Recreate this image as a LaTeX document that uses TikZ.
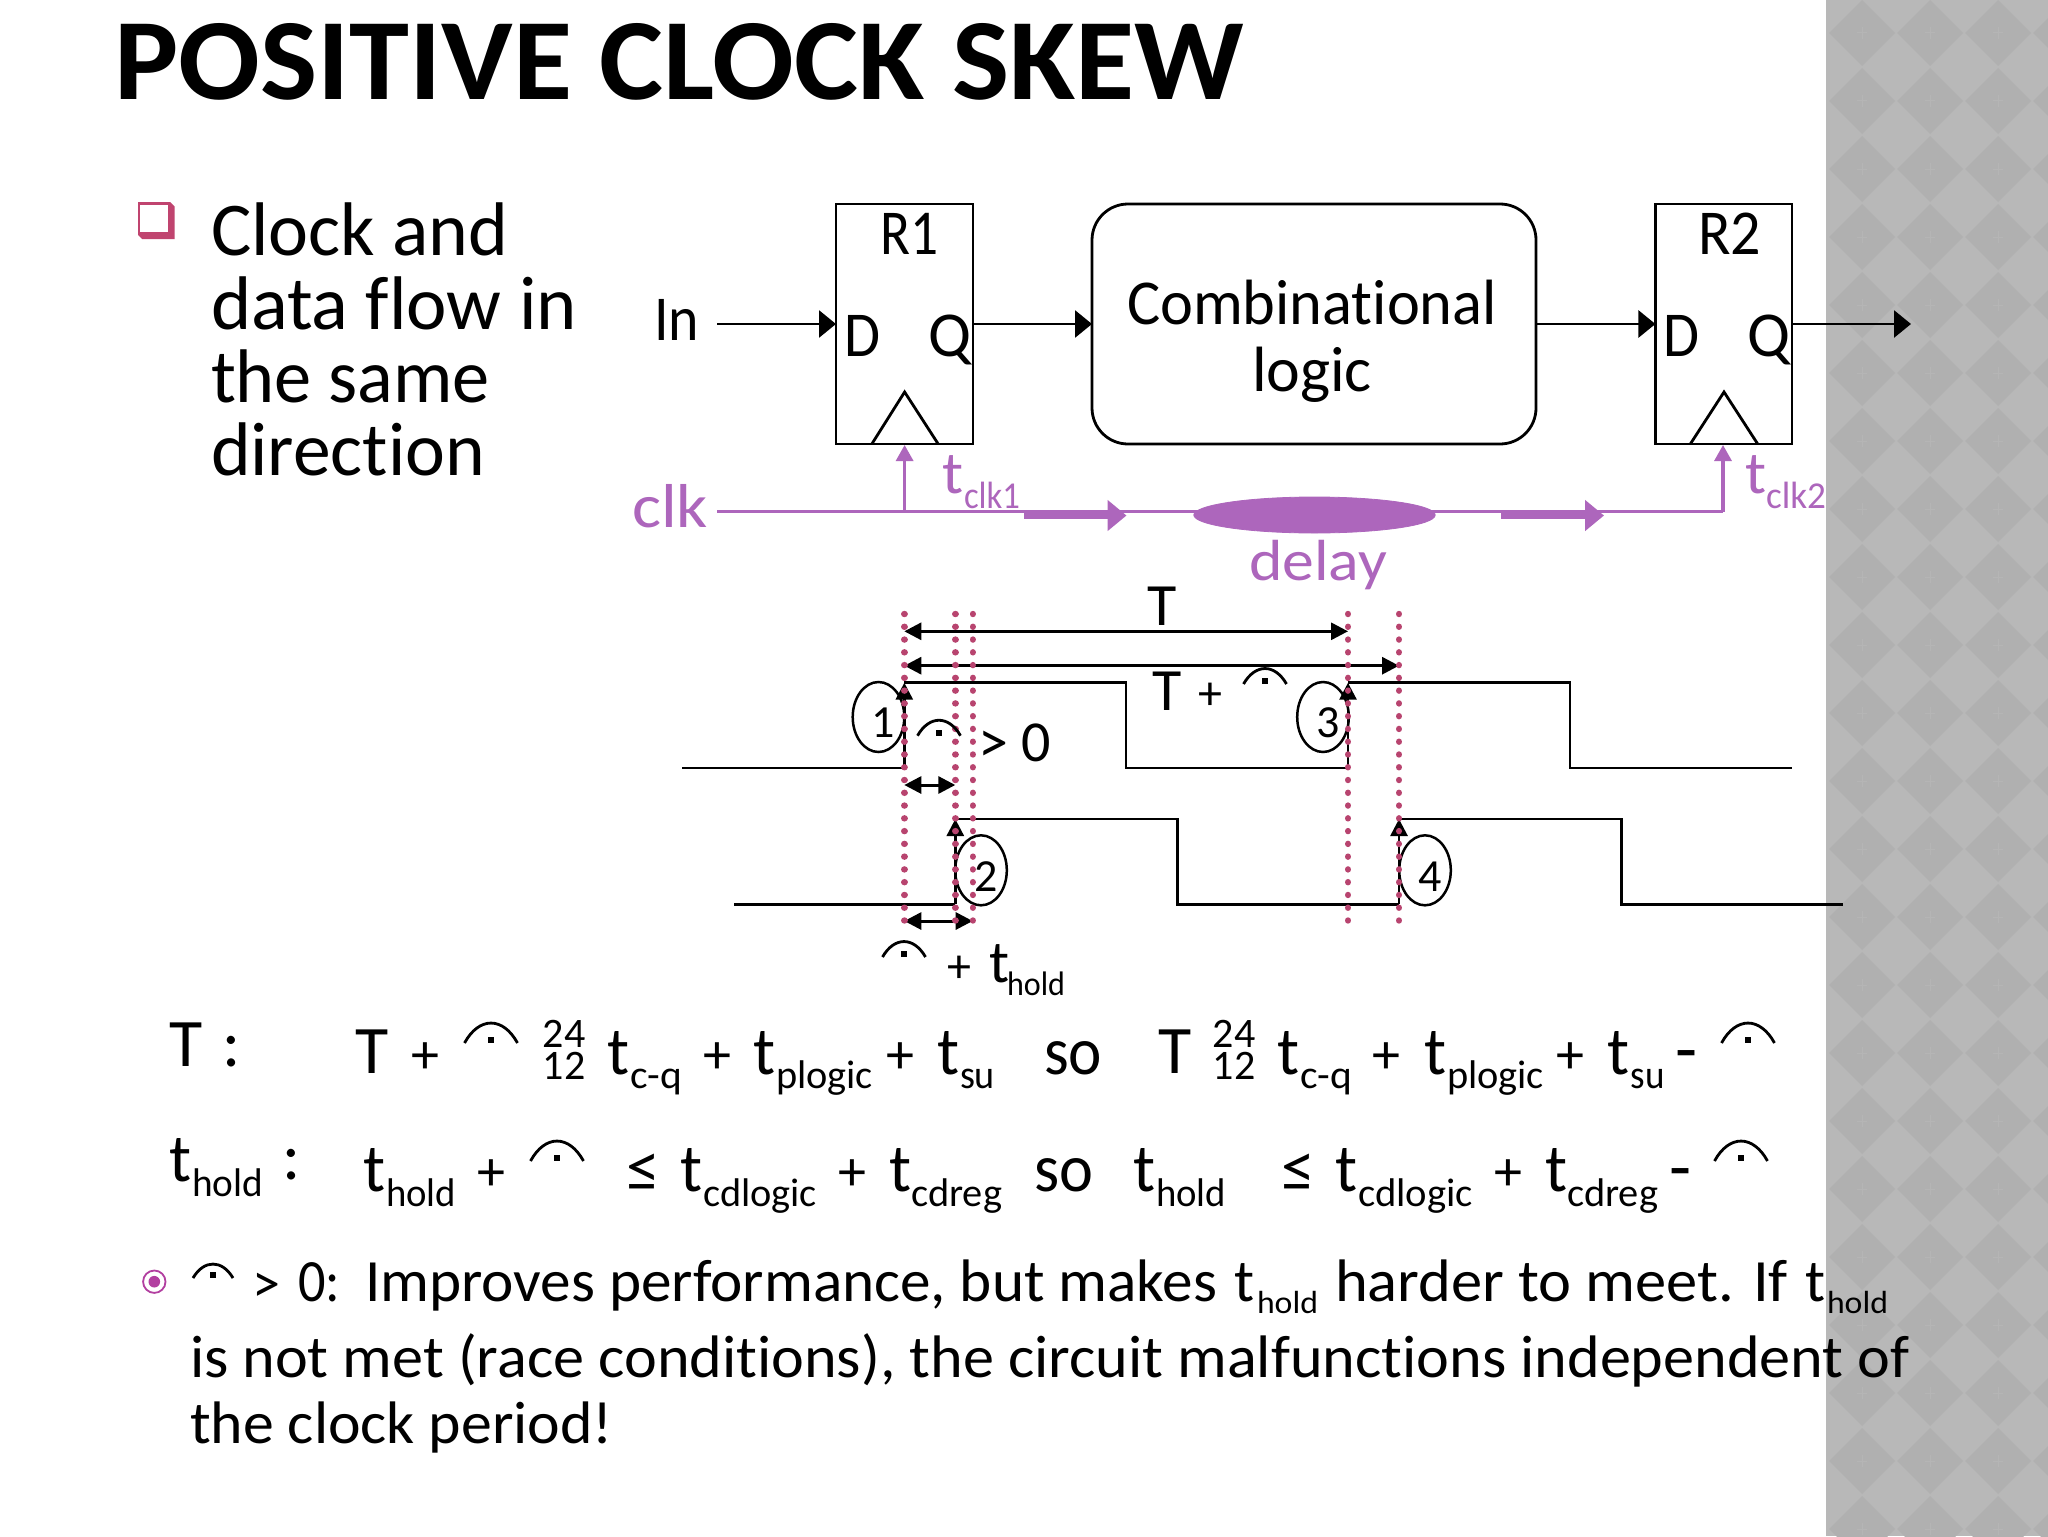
\documentclass[tikz,border=0pt]{standalone}
\usepackage{graphicx}
\usepackage{fontspec}
\setmainfont[Ligatures=CommonOff]{Carlito}
\usetikzlibrary{arrows.meta,shapes.geometric}
\definecolor{clkc}{HTML}{AD66BC}
\definecolor{dotc}{HTML}{B8446F}
\definecolor{panelc}{HTML}{B8B8B8}
\definecolor{paneld}{HTML}{B0B0B0}
\definecolor{panell}{HTML}{B5B5B5}
\definecolor{sqc}{HTML}{C0446F}
\definecolor{ringc}{HTML}{B23FA0}
\newlength\pxu \setlength\pxu{0.5pt}
% left-anchored text fitted to a width in px
\newcommand\lab[7][black]{\node[txt,text=#1,anchor=base west] (#2) at (#3,#4) {\fontsize{#5}{#5}\selectfont\resizebox{#6\pxu}{\height}{#7}};}
% centred text at natural width
\newcommand\labc[6][black]{\node[txt,text=#1,anchor=base] (#2) at (#3,#4) {\fontsize{#5}{#5}\selectfont #6};}
% skew symbol: centre x, bottom y, half width, height
\newcommand\skewarc[4]{%
  \draw[line width=1.4pt] ({#1-#3},#2) .. controls ({#1-0.45*#3},{#2-1.33*#4}) and ({#1+0.45*#3},{#2-1.33*#4}) .. ({#1+#3},#2);
  \fill ({#1-2.8},{#2-6}) rectangle ({#1+2.8},{#2});}
\tikzset{
  txt/.style={inner sep=0pt,outer sep=0pt,text=black},
  blk/.style={draw=black,line width=1.4pt,inner sep=0pt,outer sep=0pt,fill=white},
  harr/.style={line width=1.4pt,-{Triangle[length=8.5pt,width=13.5pt]}},
  sarr/.style={line width=1.5pt,{Triangle[length=8.5pt,width=8.5pt]}-{Triangle[length=8.5pt,width=8.5pt]}},
  rarr/.style={line width=1.4pt,-{Triangle[length=8.5pt,width=8.5pt]}},
  wave/.style={line width=1.4pt,line join=miter},
  clkl/.style={draw=clkc,line width=1.6pt},
  clka/.style={clkl,-{Triangle[length=8pt,width=8.5pt]}},
  clkt/.style={draw=clkc,line width=3.3pt,-{Triangle[length=9.5pt,width=15pt]}},
  dots/.style={draw=dotc,line width=3.2pt,line cap=round,dash pattern=on 0.01pt off 6.375pt},
  cyc/.style={draw=black,line width=1.25pt,ellipse,inner sep=0pt,outer sep=0pt,minimum width=25.8pt,minimum height=35pt},
}
\begin{document}
\begin{tikzpicture}[x=0.5pt,y=-0.5pt]
\useasboundingbox (0,0) rectangle (2048,1536);
\fill[white] (0,0) rectangle (2048,1536);
% side panel
\fill[panelc] (1826,0) rectangle (2048,1536);
\begin{scope}
\clip (1826,0) rectangle (2048,1536);
\foreach \i in {0,...,3}{\foreach \j in {-1,...,22}{
  \fill[paneld] ({1862+68*\i-33},{33+68*\j}) -- ({1862+68*\i},{33+68*\j-33}) -- ({1862+68*\i+33},{33+68*\j}) -- ({1862+68*\i},{33+68*\j+33}) -- cycle;
  \draw[panell,line width=0.5pt] ({1862+68*\i-5},{33+68*\j}) -- ({1862+68*\i+5},{33+68*\j}) ({1862+68*\i},{33+68*\j-6}) -- ({1862+68*\i},{33+68*\j+6});
}}
\end{scope}
% title
\lab{title}{114}{99}{58}{1130}{\bfseries POSITIVE CLOCK SKEW}
% bullet square
\fill[sqc] (138,202) -- (170,202) -- (174.5,206.5) -- (174.5,239) -- (142,239) -- (138,235) -- cycle;
\fill[white] (140,205) rectangle (168,232);
\lab{b1}{211}{255}{38}{297}{Clock and}
\lab{b2}{211}{329}{38}{366}{data flow in}
\lab{b3}{211}{402}{38}{279}{the same}
\lab{b4}{211}{475}{38}{274}{direction}
% blocks
\node[blk,minimum width=68.5pt,minimum height=120pt] (R1) at (904.5,324) {};
\node[blk,minimum width=222pt,minimum height=120pt,rectangle,rounded corners=18pt] (comb) at (1314,324) {};
\node[blk,minimum width=68.3pt,minimum height=120pt] (R2) at (1723.7,324) {};
\draw[line width=1.4pt] (872,443.7) -- (904.6,392) -- (938,443.7);
\draw[line width=1.4pt] (1690.5,443.7) -- (1724,392) -- (1757.5,443.7);
\lab{In}{654}{340}{32}{45}{In}
\lab{r1t}{880}{254.7}{32}{58}{R1}
\lab{d1}{844}{356}{32}{36}{D}
\lab{q1}{928}{356}{32}{43}{Q}
\lab{r2t}{1698}{254.7}{32}{63}{R2}
\lab{d2}{1663}{356}{32}{36}{D}
\lab{q2}{1747}{356}{32}{43}{Q}
\lab{combt}{1127}{324}{32}{370}{Combinational}
\lab{combu}{1252}{391.5}{32}{120}{logic}
\coordinate (inS) at (717,324);
\coordinate (outE) at (1911,324);
\draw[harr] (inS) -- (R1.west);
\draw[harr] (R1.east) -- (comb.west);
\draw[harr] (comb.east) -- (R2.west);
\draw[harr] (R2.east) -- (outE);
% clock net
\coordinate (clkS) at (717,511.7);
\coordinate (clkB) at (904.6,511.7);
\coordinate (clkC) at (1723,511.7);
\coordinate (ck1) at (904.6,445);
\coordinate (ck2) at (1723,445);
\draw[clkl] (clkS) -- (clkC);
\draw[clka] (clkB) -- (ck1);
\draw[clka] (clkC) -- (ck2);
\node[draw=clkc,fill=clkc,ellipse,inner sep=0pt,minimum width=120.7pt,minimum height=18pt] (dly) at (1314.5,515) {};
\coordinate (ta1) at (1024,515.5); \coordinate (tb1) at (1126.5,515.5);
\coordinate (ta2) at (1501,515.5); \coordinate (tb2) at (1604,515.5);
\draw[clkt] (ta1) -- (tb1);
\draw[clkt] (ta2) -- (tb2);
\lab[clkc]{clk}{632}{527}{31}{76}{clk}
\lab[clkc]{dl}{1249}{580}{29}{138}{delay}
\lab[clkc]{tc1}{942}{493}{30}{21}{t}
\lab[clkc]{tc1s}{964}{508}{19}{56}{clk1}
\lab[clkc]{tc2}{1745}{493}{30}{21}{t}
\lab[clkc]{tc2s}{1766}{508}{19}{60}{clk2}
% waveforms
\coordinate (a0) at (682,768); \coordinate (a1) at (904.3,768); \coordinate (a2) at (904.3,682.7);
\coordinate (a3) at (1126,682.7); \coordinate (a4) at (1126,768); \coordinate (a5) at (1348,768);
\coordinate (a6) at (1348,682.7); \coordinate (a7) at (1570,682.7); \coordinate (a8) at (1570,768); \coordinate (a9) at (1791.7,768);
\coordinate (b0) at (734,904.3); \coordinate (b1c) at (955.3,904.3); \coordinate (b2c) at (955.3,819);
\coordinate (b3c) at (1177.8,819); \coordinate (b4c) at (1177.8,904.3); \coordinate (b5) at (1399,904.3);
\coordinate (b6) at (1399,819); \coordinate (b7) at (1621.4,819); \coordinate (b8) at (1621.4,904.3); \coordinate (b9) at (1843,904.3);
\draw[wave] (a0) -- (a1);
\draw[rarr] (a1) -- (a2);
\draw[wave] (a2) -- (a3) -- (a4) -- (a5);
\draw[rarr] (a5) -- (a6);
\draw[wave] (a6) -- (a7) -- (a8) -- (a9);
\draw[wave] (b0) -- (b1c);
\draw[rarr] (b1c) -- (b2c);
\draw[wave] (b2c) -- (b3c) -- (b4c) -- (b5);
\draw[rarr] (b5) -- (b6);
\draw[wave] (b6) -- (b7) -- (b8) -- (b9);
% circled events
\node[cyc] (c1) at (878.5,717) {};
\node[cyc] (c3) at (1323,717) {};
\node[cyc] (c2) at (981,870.3) {};
\node[cyc] (c4) at (1425,870.3) {};
\labc{n1}{883}{737}{23}{1}
\labc{n3}{1328}{737}{23}{3}
\labc{n2}{986}{891}{23}{2}
\labc{n4}{1430}{891.5}{23}{4}
% dotted guides
\coordinate (d1t) at (904.3,614); \coordinate (d1b) at (904.3,933);
\coordinate (d2t) at (955.3,614); \coordinate (d2b) at (955.3,933);
\coordinate (d3t) at (972.7,614); \coordinate (d3b) at (972.7,933);
\coordinate (d4t) at (1348,614); \coordinate (d4b) at (1348,933);
\coordinate (d5t) at (1399,614); \coordinate (d5b) at (1399,933);
% span arrows
\coordinate (sT1) at (904.3,631.3); \coordinate (sT2) at (1348,631.3);
\coordinate (sU1) at (904.3,665.7); \coordinate (sU2) at (1399,665.7);
\coordinate (sV1) at (904.3,785); \coordinate (sV2) at (955.3,785);
\coordinate (sW1) at (904.3,921); \coordinate (sW2) at (972.7,921);
\draw[sarr] (sT1) -- (sT2);
\draw[sarr] (sU1) -- (sU2);
\draw[sarr] (sV1) -- (sV2);
\draw[sarr] (sW1) -- (sW2);
\draw[dots] (d1t) -- (d1b);
\draw[dots] (d2t) -- (d2b);
\draw[dots] (d3t) -- (d3b);
\draw[dots] (d4t) -- (d4b);
\draw[dots] (d5t) -- (d5b);
% waveform labels
\labc{lT}{1162}{625}{30}{T}
\labc{lU}{1167}{710}{30}{T}
\labc{lUp}{1210.5}{709}{24}{+}
\skewarc{1265}{684}{21.5}{15.5}
\skewarc{939}{735.7}{21.5}{15.5}
\labc{lg}{993}{762}{30}{>}
\labc{l0}{1036}{761}{29}{0}
\skewarc{904}{957}{21.5}{15.5}
\labc{lp}{959}{982}{24}{+}
\lab{lt}{989}{982}{30}{20}{t}
\lab{lh}{1007}{995}{17}{58}{hold}
% equation row 1
\labc{e1}{186}{1066}{34}{T}
\labc{e1c}{232}{1066}{34}{:}
\labc{e2}{372.5}{1073}{34}{T}
\labc{e3}{425}{1073}{28}{+}
\skewarc{491}{1043}{26.5}{20}
\labc{e4}{564}{1047.7}{21}{24}
\labc{e5}{564}{1079}{21}{12}
\lab{e6}{607}{1074}{34}{22}{t}
\lab{e6s}{630}{1088}{20}{52}{c-q}
\labc{e7}{717}{1073}{28}{+}
\lab{e8}{753}{1074}{34}{22}{t}
\lab{e8s}{776}{1088}{20}{97}{plogic}
\labc{e9}{900}{1073}{28}{+}
\lab{e10}{937}{1074}{34}{22}{t}
\lab{e10s}{960}{1088}{20}{35}{su}
\lab{e11}{1044}{1074}{34}{58}{so}
\labc{e12}{1175}{1073}{34}{T}
\labc{e13}{1234}{1047.7}{21}{24}
\labc{e14}{1234}{1079}{21}{12}
\lab{e15}{1277}{1074}{34}{22}{t}
\lab{e15s}{1300}{1088}{20}{52}{c-q}
\labc{e16}{1386.5}{1073}{28}{+}
\lab{e17}{1424}{1074}{34}{22}{t}
\lab{e17s}{1447}{1088}{20}{97}{plogic}
\labc{e18}{1570.5}{1073}{28}{+}
\lab{e19}{1607.5}{1074}{34}{22}{t}
\lab{e19s}{1630.5}{1088}{20}{34}{su}
\labc{e20}{1686}{1073}{36}{-}
\skewarc{1748}{1043}{26.5}{20}
% equation row 2
\lab{f1}{169}{1181.7}{34}{22}{t}
\lab{f1s}{192}{1196.7}{20}{71}{hold}
\labc{f1c}{292}{1179}{34}{:}
\lab{f2}{363}{1191}{34}{22}{t}
\lab{f2s}{386}{1206.7}{20}{70}{hold}
\labc{f3}{491}{1190}{28}{+}
\skewarc{557}{1161}{26.5}{20}
\labc{f4}{643}{1191}{34}{≤}
\lab{f5}{680}{1191}{34}{22}{t}
\lab{f5s}{703}{1206.7}{20}{114}{cdlogic}
\labc{f6}{852}{1190}{28}{+}
\lab{f7}{889}{1191}{34}{22}{t}
\lab{f7s}{911}{1206.7}{20}{91}{cdreg}
\lab{f8}{1034}{1191}{34}{59}{so}
\lab{f9}{1133}{1191}{34}{22}{t}
\lab{f9s}{1156}{1206.7}{20}{70}{hold}
\labc{f10}{1298}{1191}{34}{≤}
\lab{f11}{1335}{1191}{34}{22}{t}
\lab{f11s}{1358}{1206.7}{20}{115}{cdlogic}
\labc{f12}{1508}{1190}{28}{+}
\lab{f13}{1545.5}{1191}{34}{22}{t}
\lab{f13s}{1567}{1206.7}{20}{91}{cdreg}
\labc{f14}{1680}{1191}{36}{-}
\skewarc{1741}{1161}{26.5}{20}
% bottom paragraph
\draw[ringc,line width=0.9pt] (154.3,1281.7) circle[radius=5.6pt];
\fill[ringc] (154.3,1281.7) circle[radius=2.9pt];
\skewarc{213}{1278}{20}{14}
\labc{g1}{266.5}{1302}{28}{>}
\lab{g2}{298}{1301}{30}{42}{0:}
\lab{g3}{365}{1301}{30}{852}{Improves performance, but makes}
\lab{g4}{1234}{1301}{30}{20}{t}
\lab{g4s}{1257}{1313}{16}{61}{hold}
\lab{g5}{1335}{1301}{30}{453}{harder to meet. If}
\lab{g6}{1805}{1301}{30}{20}{t}
\lab{g6s}{1827}{1313}{16}{61}{hold}
\lab{g7}{190}{1377.5}{30}{1720}{is not met (race conditions), the circuit malfunctions independent of}
\lab{g8}{190}{1443.5}{30}{423}{the clock period!}
\end{tikzpicture}
\end{document}
